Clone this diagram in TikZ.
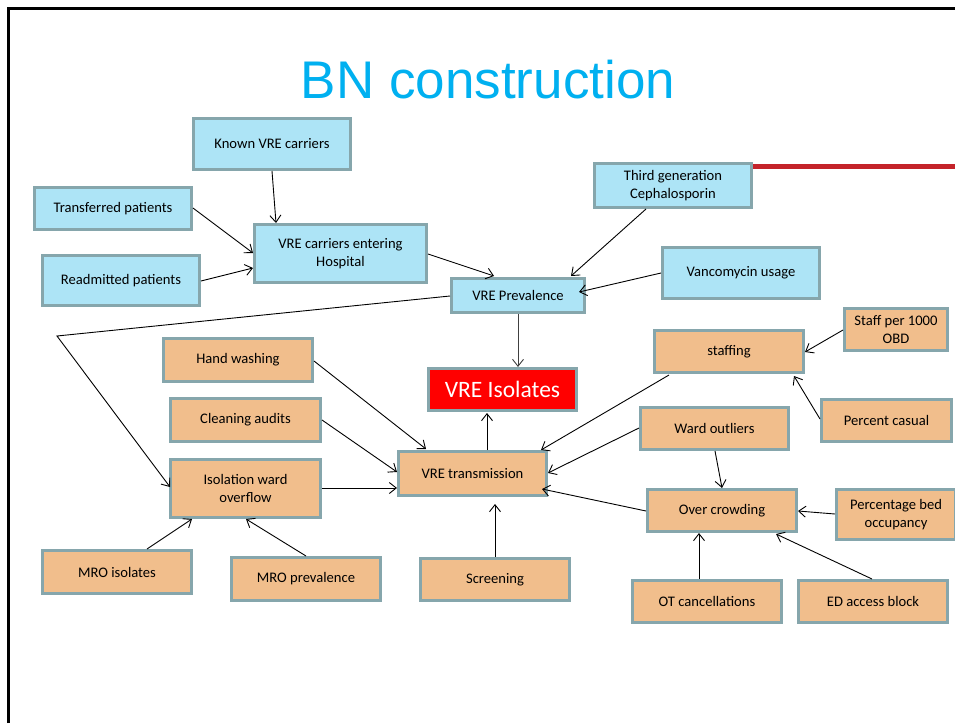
\documentclass[tikz,border=0pt]{standalone}
\usepackage{fontspec}
\setmainfont{Carlito}
\newfontfamily\titlefont{Liberation Sans}
\usetikzlibrary{arrows.meta}

\definecolor{boxblue}{RGB}{173,228,246}
\definecolor{boxorange}{RGB}{241,190,140}
\definecolor{boxedge}{RGB}{134,166,172}
\definecolor{titleblue}{RGB}{0,176,240}
\definecolor{accentred}{RGB}{196,35,42}
\definecolor{alertred}{RGB}{255,0,0}

\tikzset{
  box/.style={draw=boxedge, line width=2.6pt, inner sep=0pt, outer sep=0pt,
    align=center, anchor=north west, text=black,
    font=\fontsize{14.6}{18}\selectfont},
  bluebox/.style={box, fill=boxblue},
  orangebox/.style={box, fill=boxorange},
  alertbox/.style={box, fill=alertred, text=white, font=\fontsize{23.5}{26}\selectfont},
  link/.style={line width=0.9pt, -{Straight Barb[length=7pt,width=11pt]}},
}

% box with outer corner (x,y) and outer size w x h, in pixels
\newcommand\boxat[7]{%
  \node[#2, minimum width=#5pt-2.6pt, minimum height=#6pt-2.6pt] (#1) at (#3+1.3,#4+1.3) {#7};}
% point on a box, given as offset from its outer top-left corner
\newcommand\anc[3]{([shift={(#2-1.3,#3-1.3)}]#1.north west)}

\begin{document}
\begin{tikzpicture}[x=1pt,y=-1pt]
\useasboundingbox (0,0) rectangle (955,723);
\fill[white] (0,0) rectangle (955,723);

% slide frame and accent bar
\draw[line width=3pt] (8.5,723) -- (8.5,8) -- (955,8);
\coordinate (barstart) at (752,166);
\coordinate (barend) at (955,166);
\draw[accentred, line width=5pt] (barstart) -- (barend);

% title
\node[anchor=base, text=titleblue, font=\titlefont\fontsize{53}{60}\selectfont] (title) at (488,98) {BN construction};

% upper network (blue)
\boxat{known}{bluebox}{192}{117}{160}{54}{Known VRE carriers}
\boxat{transf}{bluebox}{33}{186}{160}{45}{Transferred patients}
\boxat{readm}{bluebox}{41}{254}{160}{53}{Readmitted patients}
\boxat{enter}{bluebox}{253}{223}{175}{61}{VRE carriers entering\\Hospital}
\boxat{prev}{bluebox}{450}{277}{136}{37}{VRE Prevalence}
\boxat{third}{bluebox}{593}{162}{160}{47}{Third generation\\Cephalosporin}
\boxat{vanco}{bluebox}{661}{246}{160}{54}{Vancomycin usage}

% outcome
\boxat{isolates}{alertbox}{427}{367}{151}{45}{VRE Isolates}

% lower network (orange)
\boxat{hand}{orangebox}{162}{337}{152}{46}{Hand washing}
\boxat{clean}{orangebox}{169}{397}{153}{46}{Cleaning audits}
\boxat{isol}{orangebox}{169}{458}{153}{61}{Isolation ward\\overflow}
\boxat{mroi}{orangebox}{41}{549}{152}{46}{MRO isolates}
\boxat{mrop}{orangebox}{230}{556}{152}{46}{MRO prevalence}
\boxat{trans}{orangebox}{397}{450}{151}{47}{VRE transmission}
\boxat{screen}{orangebox}{419}{557}{152}{45}{Screening}
\boxat{staffing}{orangebox}{653}{329}{152}{45}{staffing}
\boxat{staffper}{orangebox}{843}{307}{106}{45}{Staff per 1000\\OBD}
\boxat{casual}{orangebox}{820}{398}{133}{45}{Percent casual}
\boxat{outliers}{orangebox}{639}{406}{151}{45}{Ward outliers}
\boxat{crowd}{orangebox}{646}{488}{152}{45}{Over crowding}
\boxat{bed}{orangebox}{835}{488}{122}{53}{Percentage bed\\occupancy}
\boxat{otc}{orangebox}{631}{579}{152}{45}{OT cancellations}
\boxat{ed}{orangebox}{797}{579}{152}{45}{ED access block}

% connectors
\coordinate (bend) at (57,336);
\draw[link] \anc{known}{80}{54} -- \anc{enter}{23}{0};
\draw[link] \anc{transf}{160}{22} -- \anc{enter}{0}{30};
\draw[link] \anc{readm}{160}{27} -- \anc{enter}{0}{45};
\draw[link] \anc{enter}{175}{31} -- \anc{prev}{44}{-1};
\draw[link] \anc{third}{53}{47} -- \anc{prev}{121}{-1};
\draw[link] \anc{vanco}{0}{27} -- \anc{prev}{129}{15};
\draw[link] \anc{prev}{0}{19} -- (bend) -- \anc{isol}{1}{29};
\draw[link, black!75] \anc{prev}{68}{37} -- \anc{isolates}{91}{0};
\draw[link] \anc{hand}{152}{24} -- \anc{trans}{29}{-1};
\draw[link] \anc{clean}{153}{23} -- \anc{trans}{0}{22};
\draw[link] \anc{isol}{153}{30} -- \anc{trans}{0}{38};
\draw[link] \anc{mroi}{106}{0} -- \anc{isol}{23}{61};
\draw[link] \anc{mrop}{76}{0} -- \anc{isol}{77}{61};
\draw[link] \anc{trans}{90}{0} -- \anc{isolates}{60}{46};
\draw[link] \anc{screen}{76}{0} -- \anc{trans}{98}{54};
\draw[link] \anc{staffing}{16}{46} -- \anc{trans}{144}{0};
\draw[link] \anc{outliers}{0}{22} -- \anc{trans}{151}{23};
\draw[link] \anc{crowd}{0}{23} -- \anc{trans}{145}{39};
\draw[link] \anc{staffper}{0}{23} -- \anc{staffing}{152}{23};
\draw[link] \anc{casual}{0}{21} -- \anc{staffing}{141}{47};
\draw[link] \anc{outliers}{76}{45} -- \anc{crowd}{76}{0};
\draw[link] \anc{bed}{0}{26} -- \anc{crowd}{152}{23};
\draw[link] \anc{otc}{68}{0} -- \anc{crowd}{53}{45};
\draw[link] \anc{ed}{75}{0} -- \anc{crowd}{130}{46};
\end{tikzpicture}
\end{document}
